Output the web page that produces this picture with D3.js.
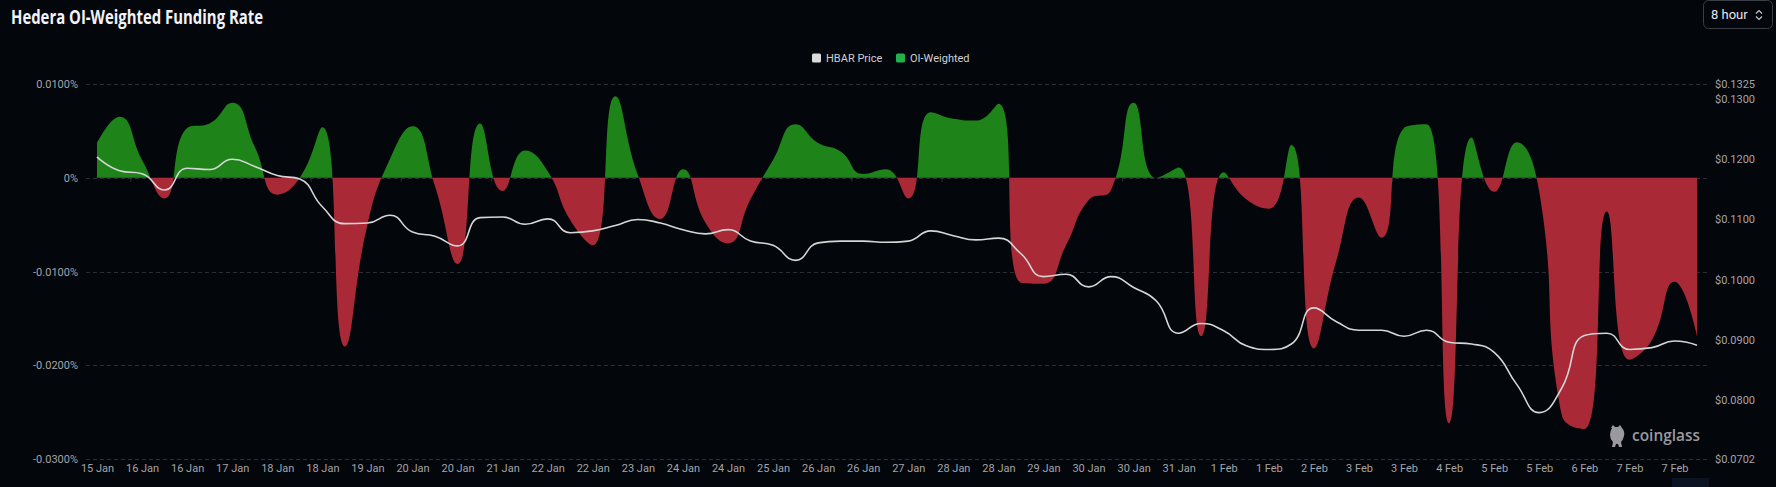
<!DOCTYPE html>
<html><head><meta charset="utf-8">
<script src="https://cdn.jsdelivr.net/npm/d3@7"></script>
<style>
html,body{margin:0;padding:0;background:#03060b;overflow:hidden;}
svg{display:block;}
</style></head><body>
<svg id="chart" width="1776" height="487"></svg>
<script>
// ---------- DATA ----------
const categories = [
"15 Jan 08:00","15 Jan 16:00",
"16 Jan 00:00","16 Jan 08:00","16 Jan 16:00",
"17 Jan 00:00","17 Jan 08:00","17 Jan 16:00",
"18 Jan 00:00","18 Jan 08:00","18 Jan 16:00",
"19 Jan 00:00","19 Jan 08:00","19 Jan 16:00",
"20 Jan 00:00","20 Jan 08:00","20 Jan 16:00",
"21 Jan 00:00","21 Jan 08:00","21 Jan 16:00",
"22 Jan 00:00","22 Jan 08:00","22 Jan 16:00",
"23 Jan 00:00","23 Jan 08:00","23 Jan 16:00",
"24 Jan 00:00","24 Jan 08:00","24 Jan 16:00",
"25 Jan 00:00","25 Jan 08:00","25 Jan 16:00",
"26 Jan 00:00","26 Jan 08:00","26 Jan 16:00",
"27 Jan 00:00","27 Jan 08:00","27 Jan 16:00",
"28 Jan 00:00","28 Jan 08:00","28 Jan 16:00",
"29 Jan 00:00","29 Jan 08:00","29 Jan 16:00",
"30 Jan 00:00","30 Jan 08:00","30 Jan 16:00",
"31 Jan 00:00","31 Jan 08:00","31 Jan 16:00",
"1 Feb 00:00","1 Feb 08:00","1 Feb 16:00",
"2 Feb 00:00","2 Feb 08:00","2 Feb 16:00",
"3 Feb 00:00","3 Feb 08:00","3 Feb 16:00",
"4 Feb 00:00","4 Feb 08:00","4 Feb 16:00",
"5 Feb 00:00","5 Feb 08:00","5 Feb 16:00",
"6 Feb 00:00","6 Feb 08:00","6 Feb 16:00",
"7 Feb 00:00","7 Feb 08:00","7 Feb 16:00",
"8 Feb 00:00"
];

// OI-weighted funding rate, in percent
const fundingRate = [
 0.0037, 0.0065, 0.0019,-0.0022, 0.0053, 0.0058, 0.0080, 0.0033,-0.0018, 0.0000,
 0.0054,-0.0180,-0.0050, 0.0020, 0.0055,-0.0009,-0.0092, 0.0058,-0.0014, 0.0029,
 0.0007,-0.0045,-0.0072, 0.0087, 0.0003,-0.0044, 0.0009,-0.0048,-0.0070,-0.0023,
 0.0019, 0.0057, 0.0037, 0.0028, 0.0004, 0.0009,-0.0022, 0.0070, 0.0063, 0.0061,
 0.0079,-0.0112,-0.0113,-0.0072,-0.0024,-0.0013, 0.0080, 0.0000, 0.0011,-0.0169,
 0.0006,-0.0023,-0.0033, 0.0035,-0.0182,-0.0088,-0.0021,-0.0064, 0.0053, 0.0057,
-0.0262, 0.0043,-0.0015, 0.0038,-0.0015,-0.0253,-0.0268,-0.0036,-0.0194,-0.0173,
-0.0111,-0.0169
];

// HBAR price, USD
const hbarPrice = [
 0.1204,0.1181,0.1176,0.1149,0.1185,0.1183,0.1200,0.1188,0.1173,0.1167,
 0.1121,0.1093,0.1094,0.1107,0.1079,0.1072,0.1056,0.1103,0.1104,0.1092,
 0.1101,0.1078,0.1081,0.1090,0.1100,0.1094,0.1083,0.1076,0.1083,0.1064,
 0.1057,0.1032,0.1061,0.1064,0.1064,0.1062,0.1064,0.1081,0.1073,0.1066,
 0.1069,0.1043,0.1005,0.1009,0.0988,0.1005,0.0987,0.0965,0.0911,0.0927,
 0.0915,0.0890,0.0884,0.0893,0.0953,0.0930,0.0916,0.0916,0.0906,0.0916,
 0.0896,0.0893,0.0879,0.0826,0.0779,0.0820,0.0907,0.0911,0.0884,0.0887,
 0.0898,0.0891
];

const leftTicks = [0.01, 0, -0.01, -0.02, -0.03];
const rightTicks = [0.1325, 0.13, 0.12, 0.11, 0.10, 0.09, 0.08, 0.0702];
const seriesNames = ["HBAR Price", "OI-Weighted"];

// ---------- ECharts-like smoothing as a d3 curve ----------
function EChartsCurve(context){ this._context = context; }
EChartsCurve.prototype = {
  areaStart(){ this._line = 0; },
  areaEnd(){ this._line = NaN; },
  lineStart(){ this._pts = []; },
  point(px, py){ this._pts.push([+px, +py]); },
  lineEnd(){
    const pts = this._pts, n = pts.length, ctx = this._context, smooth = 0.5;
    if (n) {
      if (this._line) ctx.lineTo(pts[0][0], pts[0][1]); else ctx.moveTo(pts[0][0], pts[0][1]);
      let cpx0 = pts[0][0], cpy0 = pts[0][1], prevX = pts[0][0], prevY = pts[0][1];
      for (let k = 1; k < n; k++) {
        const cx = pts[k][0], cy = pts[k][1];
        let cpx1, cpy1, nx0, ny0;
        if (k === n - 1) { cpx1 = cx; cpy1 = cy; nx0 = cx; ny0 = cy; }
        else {
          const nextX = pts[k+1][0], nextY = pts[k+1][1];
          let vx = nextX - prevX, vy = nextY - prevY;
          const lenPrev = Math.hypot(cx - prevX, cy - prevY) || 1e-9;
          const lenNext = Math.hypot(nextX - cx, nextY - cy) || 1e-9;
          const ratio = lenNext / (lenNext + lenPrev);
          nx0 = cx + vx * smooth * ratio; ny0 = cy + vy * smooth * ratio;
          nx0 = Math.min(nx0, Math.max(nextX, cx)); ny0 = Math.min(ny0, Math.max(nextY, cy));
          nx0 = Math.max(nx0, Math.min(nextX, cx)); ny0 = Math.max(ny0, Math.min(nextY, cy));
          vx = nx0 - cx; vy = ny0 - cy;
          cpx1 = cx - vx * lenPrev / lenNext; cpy1 = cy - vy * lenPrev / lenNext;
          cpx1 = Math.min(cpx1, Math.max(prevX, cx)); cpy1 = Math.min(cpy1, Math.max(prevY, cy));
          cpx1 = Math.max(cpx1, Math.min(prevX, cx)); cpy1 = Math.max(cpy1, Math.min(prevY, cy));
          vx = cx - cpx1; vy = cy - cpy1;
          nx0 = cx + vx * lenNext / lenPrev; ny0 = cy + vy * lenNext / lenPrev;
        }
        ctx.bezierCurveTo(cpx0, cpy0, cpx1, cpy1, cx, cy);
        cpx0 = nx0; cpy0 = ny0; prevX = cx; prevY = cy;
      }
    }
    if (this._line || (this._line !== 0 && n === 1)) ctx.closePath();
    this._line = 1 - this._line;
  }
};
const curveECharts = ctx => new EChartsCurve(ctx);

// ---------- CHART ----------
const svg = d3.select("#chart");
const W = 1776, H = 487;
const gridL = 86, gridR = 1707, plotTop = 84, plotBottom = 459;

svg.append("rect").attr("width", W).attr("height", H).attr("fill", "#03060b");

const xScale = d3.scalePoint().domain(categories).range([97, 1697]);
const yL = d3.scaleLinear().domain([-0.03, 0.01]).range([plotBottom, plotTop]);
const yR = d3.scaleLinear().domain([0.0702, 0.1325]).range([plotBottom, plotTop]);

// title
svg.append("text").attr("x", 11).attr("y", 23.5)
  .attr("font-family", "'Open Sans', Roboto, sans-serif").attr("font-weight", 700)
  .attr("font-size", 19).attr("fill", "#f2f2f7")
  .attr("textLength", 252).attr("lengthAdjust", "spacingAndGlyphs")
  .text("Hedera OI-Weighted Funding Rate");

// 8 hour selector
const sel = svg.append("g");
sel.append("rect").attr("x", 1703.5).attr("y", 0.5).attr("width", 69).attr("height", 28).attr("rx", 5)
  .attr("fill", "none").attr("stroke", "#3b3e45");
sel.append("text").attr("x", 1711).attr("y", 19).attr("font-family", "Roboto, sans-serif")
  .attr("font-size", 13).attr("fill", "#e8e8ec").text("8 hour");
sel.append("path").attr("d", "M1756,13.5 L1759,10.5 L1762,13.5 M1756,16.5 L1759,19.5 L1762,16.5")
  .attr("fill", "none").attr("stroke", "#c8c8cc").attr("stroke-width", 1.2);

// legend
const leg = svg.append("g").attr("font-family", "Roboto, sans-serif").attr("font-size", 11);
leg.append("rect").attr("x", 812).attr("y", 53.5).attr("width", 9).attr("height", 9).attr("rx", 1.5).attr("fill", "#dcdcdc");
leg.append("text").attr("x", 826).attr("y", 62).attr("fill", "#d0d0d4").text(seriesNames[0]);
leg.append("rect").attr("x", 896).attr("y", 53.5).attr("width", 9).attr("height", 9).attr("rx", 1.5).attr("fill", "#22b14c");
leg.append("text").attr("x", 910).attr("y", 62).attr("fill", "#d0d0d4").text(seriesNames[1]);

// grid lines
svg.append("g").selectAll("line").data(leftTicks).join("line")
  .attr("x1", gridL).attr("x2", gridR)
  .attr("y1", d => Math.round(yL(d)) + 0.5).attr("y2", d => Math.round(yL(d)) + 0.5)
  .attr("stroke", "#2a2e35").attr("stroke-dasharray", "4,3");

// left axis
const axL = svg.append("g").attr("transform", `translate(${gridL},0)`)
  .call(d3.axisLeft(yL).tickValues(leftTicks).tickSize(0).tickPadding(8)
    .tickFormat(d => d === 0 ? "0%" : d.toFixed(4) + "%"));
axL.select(".domain").remove();
axL.selectAll("text").attr("fill", "#a4a4a8").attr("font-size", 11).attr("font-family", "Roboto, sans-serif");

// right axis
const axR = svg.append("g").attr("transform", `translate(${gridR},0)`)
  .call(d3.axisRight(yR).tickValues(rightTicks).tickSize(0).tickPadding(8)
    .tickFormat(d => "$" + d.toFixed(4)));
axR.select(".domain").remove();
axR.selectAll("text").attr("fill", "#a4a4a8").attr("font-size", 11).attr("font-family", "Roboto, sans-serif");

// bottom axis
const axB = svg.append("g").attr("transform", `translate(0,${plotBottom + 3})`)
  .call(d3.axisBottom(xScale).tickValues(categories.filter((d, i) => i % 2 === 0)).tickSize(0).tickPadding(2)
    .tickFormat(d => d.replace(/ \d\d:\d\d$/, "")));
axB.select(".domain").remove();
axB.selectAll("text").attr("fill", "#a4a4a8").attr("font-size", 11).attr("font-family", "Roboto, sans-serif");

// small ticks on zero axis line
const zeroY = yL(0);
const tickPos = d3.range(1, categories.length - 1, 4).map(i => (xScale(categories[i]) + xScale(categories[i + 1])) / 2);
svg.append("g").selectAll("line").data(tickPos).join("line")
  .attr("x1", d => d).attr("x2", d => d).attr("y1", zeroY).attr("y2", zeroY + 4)
  .attr("stroke", "#2a2e35");

// gradient for funding area (green above 0, red below)
const defs = svg.append("defs");
const off = (zeroY - plotTop) / (plotBottom - plotTop);
const grad = defs.append("linearGradient").attr("id", "frGrad")
  .attr("gradientUnits", "userSpaceOnUse").attr("x1", 0).attr("y1", plotTop).attr("x2", 0).attr("y2", plotBottom);
grad.append("stop").attr("offset", off).attr("stop-color", "#1e8419");
grad.append("stop").attr("offset", off).attr("stop-color", "#a92937");

const area = d3.area()
  .x((d, i) => xScale(categories[i]))
  .y0(zeroY)
  .y1(d => yL(d))
  .curve(curveECharts);
svg.append("path").datum(fundingRate).attr("d", area).attr("fill", "url(#frGrad)");

// price line
const line = d3.line()
  .x((d, i) => xScale(categories[i]))
  .y(d => yR(d))
  .curve(curveECharts);
svg.append("path").datum(hbarPrice).attr("d", line).attr("fill", "none")
  .attr("stroke", "#d6d6d6").attr("stroke-width", 1.6);

// watermark
const wm = svg.append("g").attr("fill", "#9a9a9e");
wm.append("path").attr("d", "M1611,428 l2,-3 l2,2 l3,0 l2,-2 l2,3 q3,3 2,8 q-1,4 -3,6 l1,5 l-3,0 l-1,-3 l-2,0 l-1,3 l-3,0 l1,-5 q-3,-3 -3,-7 q0,-4 2,-7 z");
wm.append("text").attr("x", 1632).attr("y", 441).attr("font-family", "'Open Sans', sans-serif")
  .attr("font-weight", 600).attr("font-size", 17).attr("textLength", 68).attr("lengthAdjust", "spacingAndGlyphs")
  .text("coinglass");

// scrollbar stub
svg.append("rect").attr("x", 1672).attr("y", 478).attr("width", 37).attr("height", 9).attr("fill", "#0b1222");
</script>
</body></html>
